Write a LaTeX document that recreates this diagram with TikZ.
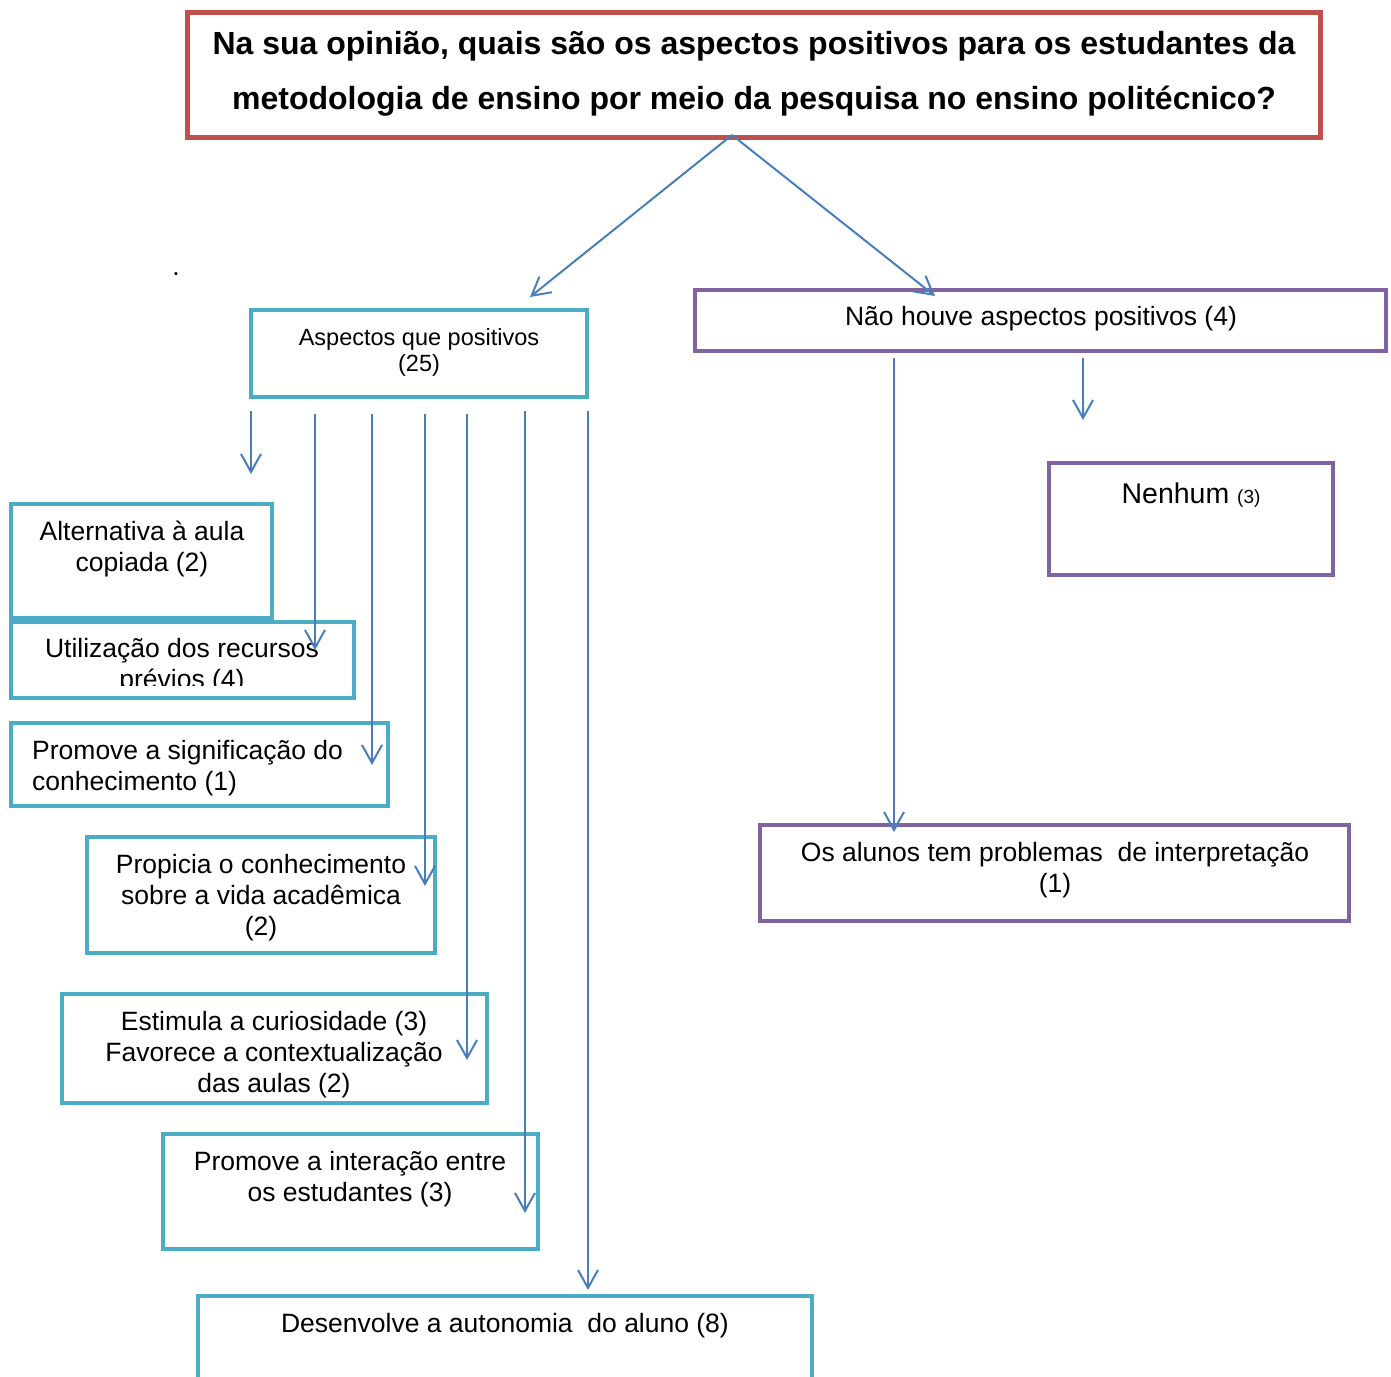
\documentclass[tikz,border=0pt]{standalone}
\usepackage{fontspec}
\setmainfont{Liberation Sans}
\usetikzlibrary{arrows.meta}
\definecolor{boxred}{HTML}{C0504D}
\definecolor{boxcyan}{HTML}{4BACC6}
\definecolor{boxpurple}{HTML}{8064A2}
\definecolor{linkblue}{HTML}{4A7EBB}
\begin{document}
\begin{tikzpicture}[x=1pt,y=-1pt,
  box/.style={draw, rectangle, line width=4pt, inner sep=0pt, outer sep=0pt, anchor=north west},
  cbox/.style={box, draw=boxcyan},
  pbox/.style={box, draw=boxpurple},
  rbox/.style={box, draw=boxred, line width=5pt},
  lbl/.style={inner sep=0pt, align=center, font=\fontsize{26.5}{31}\selectfont},
  conn/.style={draw=linkblue, line width=2pt, -{Straight Barb[length=18pt,width=20pt]}}
]
\useasboundingbox (0,0) rectangle (1391,1376);

% --- frames ---
\node[rbox, minimum width=1133pt, minimum height=125pt] (title) at (187.5,12.5) {};
\node[cbox, minimum width=336pt, minimum height=87pt] (asp) at (251,310) {};
\node[pbox, minimum width=691pt, minimum height=61pt] (nao) at (695,290) {};
\node[pbox, minimum width=284pt, minimum height=112pt] (nenhum) at (1049,463) {};
\node[pbox, minimum width=589pt, minimum height=96pt] (alunos) at (760,825) {};
\node[cbox, minimum width=261pt, minimum height=114pt] (alt) at (11,504) {};
\node[cbox, minimum width=343pt, minimum height=76pt] (util) at (11,622) {};
\node[cbox, minimum width=377pt, minimum height=83pt] (signif) at (11,723) {};
\node[cbox, minimum width=348pt, minimum height=116pt] (propicia) at (87,837) {};
\node[cbox, minimum width=425pt, minimum height=109pt] (estimula) at (62,994) {};
\node[cbox, minimum width=375pt, minimum height=115pt] (interacao) at (163,1134) {};
\node[cbox, minimum width=614pt, minimum height=150pt] (desenv) at (198,1296) {};

% --- texts ---
\node[lbl, font=\bfseries\fontsize{32}{55}\selectfont] (titletxt) at (754,74)
  {Na sua opinião, quais são os aspectos positivos para os estudantes da\\
   metodologia de ensino por meio da pesquisa no ensino politécnico?};
\node[lbl, font=\fontsize{23.5}{26}\selectfont] (asptxt) at (419,352) {Aspectos que positivos\\(25)};
\node[lbl] (naotxt) at (1041,319) {Não houve aspectos positivos (4)};
\node[lbl, font=\fontsize{28.5}{33}\selectfont] (nenhumtxt) at (1191,495)
  {Nenhum {\fontsize{19}{22}\selectfont(3)}};
\node[lbl] (alunostxt) at (1055,870) {Os alunos tem problemas\ \ de interpretação\\(1)};
\node[lbl] (alttxt) at (142,549) {Alternativa à aula\\copiada (2)};
\begin{scope}
  \clip (13,624) rectangle (352,685.5);
  \node[lbl] (utiltxt) at (182,666) {Utilização dos recursos\\prévios (4)};
\end{scope}
\node[lbl, align=left, anchor=west] (signiftxt) at (32,768.5) {Promove a significação do\\conhecimento (1)};
\node[lbl] (propiciatxt) at (261,898) {Propicia o conhecimento\\sobre a vida acadêmica\\(2)};
\node[lbl] (estimulatxt) at (274,1054.5) {Estimula a curiosidade (3)\\Favorece a contextualização\\das aulas (2)};
\node[lbl] (interacaotxt) at (350,1179.5) {Promove a interação entre\\os estudantes (3)};
\node[lbl] (desenvtxt) at (505,1326) {Desenvolve a autonomia\ \ do aluno (8)};
\node[lbl] (dot) at (176,274) {.};

% --- connector ends ---
\coordinate (fork) at (732,135);
\coordinate (aspIn) at (530,297);
\coordinate (naoIn) at (935,296);
\coordinate (a1s) at (251,411);  \coordinate (a1e) at (251,474);
\coordinate (a2s) at (315,414);  \coordinate (a2e) at (315,650);
\coordinate (a3s) at (372,414);  \coordinate (a3e) at (372,765);
\coordinate (a4s) at (425,414);  \coordinate (a4e) at (425,886);
\coordinate (a5s) at (467,414);  \coordinate (a5e) at (467,1060);
\coordinate (a6s) at (525,411);  \coordinate (a6e) at (525,1213);
\coordinate (a7s) at (588,411);  \coordinate (a7e) at (588,1290);
\coordinate (n1s) at (894,358);  \coordinate (n1e) at (894,832);
\coordinate (n2s) at (1083,358); \coordinate (n2e) at (1083,420);

% --- connectors ---
\draw[conn] (fork) -- (aspIn);
\draw[conn] (fork) -- (naoIn);
\draw[conn] (a1s) -- (a1e);
\draw[conn] (a2s) -- (a2e);
\draw[conn] (a3s) -- (a3e);
\draw[conn] (a4s) -- (a4e);
\draw[conn] (a5s) -- (a5e);
\draw[conn] (a6s) -- (a6e);
\draw[conn] (a7s) -- (a7e);
\draw[conn] (n1s) -- (n1e);
\draw[conn] (n2s) -- (n2e);
\end{tikzpicture}
\end{document}
